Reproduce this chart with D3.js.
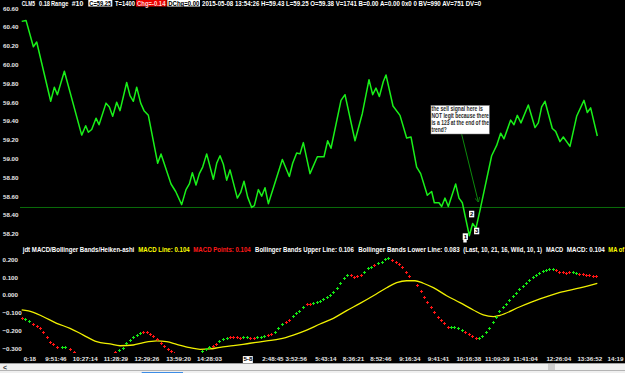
<!DOCTYPE html>
<html><head><meta charset="utf-8">
<script src="https://cdn.jsdelivr.net/npm/d3@7"></script>
<style>
html,body{margin:0;padding:0;background:#000;overflow:hidden}
svg{display:block}
text{font-family:"Liberation Sans",Arial,sans-serif;font-weight:bold}
</style>
</head><body>
<svg id="c" width="625" height="373"></svg>
<script>
// ---------- DATA ----------
// price line vertices: bar position and close price
const priceBar=[0,1.3,3.5,4.5,8.7,9.8,10.7,12.8,18,19.2,20,21,22.3,23.2,25.3,26.3,27.3,28.5,29.5,31.5,32.5,33.5,34.5,35.7,36.7,38,40.8,41.8,44.8,46.2,48,49.3,50.3,51.2,52.3,53.3,54.3,55.5,57.5,58.5,59.5,60.5,61.5,62.5,64.7,65.7,66.7,67.8,69,69.8,71,72,73,74,78.2,80.3,81.3,82.5,83.5,84.5,86.5,88.7,90.7,91.8,92.8,95.8,97,100,102.2,104.2,105.3,106.3,107.3,108.5,109.3,111.4,113.5,115.5,116.8,118.5,119.7,121.7,123,123.8,125.2,126,127,128,130.2,131.2,132.2,134.3,135.3,136.3,137.5,141,142.5,143.7,144.7,146.7,147.7,148.7,149.8,152,154,155,156,157,159.2,160.2,161.5,162.5,164.5,166.5,168.7,169.7,170.7,172.7];
const priceVal=[60.46,60.47,60.19,60.24,59.61,59.76,59.68,59.93,59.25,59.35,59.28,59.31,59.43,59.36,59.59,59.55,59.45,59.60,59.51,59.81,59.67,59.61,59.76,59.59,59.51,59.46,58.95,59.05,58.73,58.65,58.51,58.67,58.73,58.85,58.72,58.84,58.91,59.05,58.78,58.95,59.03,58.94,58.77,58.88,58.58,58.64,58.76,58.59,58.48,58.50,58.67,58.60,58.69,58.52,58.99,58.81,58.95,59.06,59.05,59.17,58.84,59.02,59.02,59.19,59.11,59.62,59.68,59.19,59.48,59.84,59.68,59.75,59.66,59.82,59.89,59.56,59.46,59.22,59.23,58.91,58.84,58.61,58.65,58.53,58.53,58.49,58.58,58.49,58.73,58.58,58.53,58.18,58.31,58.26,58.45,59.03,59.14,59.27,59.21,59.41,59.36,59.46,59.38,59.57,59.33,59.38,59.55,59.61,59.32,59.29,59.18,59.23,59.13,59.45,59.62,59.49,59.54,59.24];
const baseLevel=58.48;
const priceTicks=[60.60,60.40,60.20,60.00,59.80,59.60,59.40,59.20,59.00,58.80,58.60,58.40,58.20];

// MACD points (bar, value, 1 = green / 0 = red)
const macdBar=[0,1,2.3,3.3,4.5,5.5,6.5,7.5,8.5,9.5,10.7,12,13,14.5,15.7,
28,29.2,30.3,31.3,32.5,33.5,34.5,35.5,36.5,37.5,38.5,39.5,40.7,41.7,42.7,43.8,44.8,45.7,
54.2,55.3,56.2,57.3,58.3,59.3,60.5,61.5,62.5,63.5,64.5,65.5,66.5,67.5,68.5,69.7,70.7,71.7,72.8,73.8,74.8,76,77,78.2,79.2,80.2,81.3,82.3,83.3,84.3,85.5,86.5,87.5,88.5,89.5,90.5,91.5,92.5,93.5,94.5,95.5,96.7,97.7,98.7,99.7,100.7,101.7,102.8,103.8,104.8,105.8,106.8,108,109,110,111.2,112.2,113.2,114.2,115.3,116.3,118.5,119.7,120.7,121.7,122.8,123.8,124.8,125.8,126.8,127.8,128.8,129.8,131,132,133,134.2,135.2,136.2,137.2,138.2,139.2,140.2,141.3,142.3,143.3,
144.3,145.3,146.3,147.3,148.3,149.3,150.3,151.3,152.3,153.3,154.3,155.3,156.3,157.3,158.3,159.3,160.3,161.3,162.3,163.3,164.3,165.3,166.3,167.3,168.3,169.3,170.3,171.3,172.3];
const macdVal=[-0.131,-0.137,-0.144,-0.163,-0.174,-0.184,-0.206,-0.234,-0.262,-0.275,-0.290,-0.294,-0.294,-0.303,-0.322,
-0.322,-0.309,-0.296,-0.271,-0.253,-0.238,-0.225,-0.212,-0.210,-0.210,-0.219,-0.230,-0.249,-0.271,-0.285,-0.303,-0.313,-0.324,
-0.315,-0.303,-0.290,-0.285,-0.275,-0.257,-0.249,-0.243,-0.238,-0.234,-0.238,-0.243,-0.238,-0.238,-0.243,-0.243,-0.238,-0.234,-0.229,-0.225,-0.219,-0.206,-0.187,-0.163,-0.153,-0.140,-0.118,-0.103,-0.088,-0.069,-0.051,-0.051,-0.043,-0.038,-0.032,-0.022,-0.010,0.000,0.019,0.038,0.066,0.094,0.112,0.112,0.103,0.107,0.112,0.131,0.150,0.159,0.169,0.178,0.187,0.201,0.206,0.197,0.184,0.174,0.159,0.131,0.108,0.056,0.022,-0.010,-0.041,-0.069,-0.097,-0.122,-0.140,-0.156,-0.178,-0.181,-0.181,-0.187,-0.197,-0.206,-0.219,-0.229,-0.243,-0.243,-0.230,-0.206,-0.184,-0.150,-0.122,-0.090,
-0.068,-0.048,-0.028,-0.008,0.012,0.032,0.050,0.068,0.085,0.100,0.112,0.124,0.134,0.142,0.146,0.144,0.138,0.132,0.128,0.126,0.128,0.130,0.126,0.120,0.116,0.112,0.110,0.107,0.104];
const macdUp=[0,1,1,0,0,0,0,0,0,0,0,1,1,0,0,
0,1,1,1,1,1,1,1,0,0,0,0,0,0,0,0,0,0,
1,1,1,0,0,1,1,1,0,0,0,0,1,1,0,0,1,1,1,0,0,1,1,1,0,0,1,1,1,1,0,0,1,1,1,1,1,1,1,1,1,1,1,0,0,0,0,1,1,1,0,1,1,1,1,0,0,0,0,0,0,0,0,0,0,0,0,0,0,0,0,1,1,1,1,0,0,0,0,1,1,1,1,1,1,1,1,
1,1,1,1,1,1,1,1,1,1,1,1,1,1,1,0,0,0,0,0,1,1,0,0,0,0,0,0,0];

// MA of MACD (yellow)
const maBar=[0,3.5,6.5,10.5,14.5,18.5,22.5,26.5,29.5,33.5,36.5,40.5,43.5,46.5,50.5,53.5,56.5,59.5,63.5,68.5,73.5,77.5,81.5,85.5,89.5,93.5,97.5,101.5,105.5,109.5,112.5,115.5,118,120.5,123.5,127.5,131.5,135.5,138.5,141.5,143.5,149.5,155.5,161.5,167.5,172.7];
const maVal=[-0.084,-0.097,-0.122,-0.159,-0.187,-0.225,-0.262,-0.275,-0.285,-0.281,-0.268,-0.258,-0.262,-0.277,-0.296,-0.305,-0.303,-0.294,-0.285,-0.271,-0.258,-0.247,-0.225,-0.197,-0.163,-0.131,-0.088,-0.047,-0.004,0.041,0.069,0.080,0.080,0.066,0.041,-0.004,-0.043,-0.084,-0.112,-0.122,-0.114,-0.066,-0.022,0.015,0.040,0.066];
const macdTicks=[0.2,0.1,0,-0.1,-0.2,-0.3];

// time axis
const timeBar=[2.3,10.1,18.9,28.1,37.4,46.9,56.2,67.7,75.2,82.2,91.1,99.4,107.6,116.3,124.9,134,142.5,151,161,170.3,178];
const timeLabels=["0:18","9:51:46","10:27:14","11:28:29","12:29:26","13:59:20","14:28:03","5-8","2:48:45","3:52:56","5:43:14","8:36:21","8:52:46","9:16:34","9:41:41","10:16:38","11:09:39","11:41:04","12:26:04","13:36:52","14:19"];

// 1-2-3 markers
const markLabels=["1","2","3"];
const markBar=[133.1,135,136.5];
const markPrice=[58.17,58.41,58.23];

// annotation
const noteLines=["the sell signal here is","NOT legit because there","is a 123 at the end of the","trend?"];
const noteBar=122.8, notePrice=59.565;
const arrowBar=[132,137], arrowPrice=[59.26,58.54];

// ---------- CHART ----------
const svg=d3.select("#c");
svg.append("rect").attr("width",625).attr("height",373).attr("fill","#000");
const x=d3.scaleLinear().domain([0,180]).range([21.7,21.7+180*3.333]);
const yP=d3.scaleLinear().domain([58.20,60.40]).range([233.8,27]);
const yM=d3.scaleLinear().domain([-0.3,0.2]).range([348.4,259.4]);

const defs=svg.append("defs");
defs.append("clipPath").attr("id","cpTop").append("rect").attr("x",20).attr("y",0).attr("width",605).attr("height",240);
defs.append("clipPath").attr("id","cpBot").append("rect").attr("x",20).attr("y",255).attr("width",605).attr("height",98);
defs.append("clipPath").attr("id","cpTime").append("rect").attr("x",21).attr("y",350).attr("width",604).attr("height",14);

// text squeezed horizontally to a target width (the source uses a narrow bitmap font)
function fitText(parent,t,x0,y0,w,size,fill,weight){
  const el=parent.append("text").attr("x",0).attr("y",0).attr("font-size",size).attr("fill",fill)
    .attr("font-weight",weight||"bold").text(t);
  const nat=el.node().getComputedTextLength();
  el.attr("transform",`translate(${x0},${y0}) scale(${w/nat},1)`);
  return el;
}

// header
const hdr=svg.append("g");
const HY=5.6;
fitText(hdr,"CLM5",21.7,HY,13.3,7,"#fff");
fitText(hdr,"0.18",39,HY,11,7,"#fff");
fitText(hdr,"Range",51,HY,17.3,7,"#fff");
fitText(hdr,"#10",71.7,HY,11.6,7,"#fff");
hdr.append("rect").attr("x",88.3).attr("y",-1).attr("width",24).attr("height",7.5).attr("fill","#fff");
fitText(hdr,"C=59.25",89.3,HY,22,7,"#000");
fitText(hdr,"T=1400",115,HY,20,7,"#fff");
hdr.append("rect").attr("x",136).attr("y",-1).attr("width",30.7).attr("height",7.5).attr("fill","#e80000");
fitText(hdr,"Chg=-0.14",137,HY,28.5,7,"#ffd6d6");
hdr.append("rect").attr("x",167.3).attr("y",-1).attr("width",32.7).attr("height",7.5).attr("fill","#fff");
fitText(hdr,"DChg=0.00",168.3,HY,31,7,"#000");
fitText(hdr,"2015-05-08 13:54:26 H=59.43 L=59.25 O=59.38 V=1741 B=0.00 A=0.00 0x0 0 BV=990 AV=751 DV=0",202,HY,279.7,7,"#fff");

// price y axis
const ay=svg.append("g").call(d3.axisRight(yP).tickValues(priceTicks).tickSize(0).tickPadding(3).tickFormat(d3.format(".2f")));
ay.select(".domain").remove();
ay.selectAll("text").attr("fill","#e8e8e8").attr("font-size",6.2).attr("font-family","Liberation Sans, Arial, sans-serif").attr("font-weight","bold");

// top panel
const topG=svg.append("g").attr("clip-path","url(#cpTop)");
topG.append("line").attr("x1",20).attr("x2",625).attr("y1",yP(baseLevel)).attr("y2",yP(baseLevel)).attr("stroke","#0a6e0a").attr("stroke-width",1);
const pdata=priceBar.map((b,i)=>[b,priceVal[i]]);
topG.append("path").datum(pdata).attr("d",d3.line().x(d=>x(d[0])).y(d=>yP(d[1]))).attr("fill","none").attr("stroke","#19f019").attr("stroke-width",1.5).attr("stroke-linejoin","round");

// annotation arrow
defs.append("marker").attr("id","ah").attr("viewBox","0 0 10 10").attr("refX",9).attr("refY",5).attr("markerWidth",5).attr("markerHeight",5).attr("orient","auto")
  .append("path").attr("d","M0,0L10,5L0,10").attr("fill","none").attr("stroke","#0c8a0c").attr("stroke-width",1.5);
topG.append("line").attr("x1",x(arrowBar[0])).attr("y1",yP(arrowPrice[0])).attr("x2",x(arrowBar[1])).attr("y2",yP(arrowPrice[1])).attr("stroke","#0c8a0c").attr("stroke-width",1).attr("marker-end","url(#ah)");
// annotation box
const nb=topG.append("g").attr("transform",`translate(${x(noteBar)},${yP(notePrice)})`);
nb.append("rect").attr("width",58.3).attr("height",28.5).attr("fill","#fff").attr("stroke","#888").attr("stroke-width",0.5);
const noteW=[51.5,57.5,57.8,15.3];
noteLines.forEach((t,i)=>fitText(nb,t,0.5,5.8+i*6.9,noteW[i],6.3,"#2a2a2a","normal"));

// 1-2-3 markers
markLabels.forEach((t,i)=>{
  const g=topG.append("g").attr("transform",`translate(${x(markBar[i])},${yP(markPrice[i])})`);
  g.append("rect").attr("x",-2.6).attr("y",-3.3).attr("width",5.2).attr("height",6.6).attr("fill","#fff");
  g.append("text").attr("text-anchor","middle").attr("y",2.2).attr("font-size",6).attr("font-weight","normal").attr("fill","#000").text(t);
});

// bottom title
const BY=251.6;
fitText(svg,"jdt MACD/Bollinger Bands/Heiken-ashi",22.7,BY,112,7,"#fff");
fitText(svg,"MACD Line: 0.104",138.3,BY,51.5,7,"#ffff00");
fitText(svg,"MACD Points: 0.104",193.3,BY,57.5,7,"#ff1a1a");
fitText(svg,"Bollinger Bands Upper Line: 0.106",255,BY,99,7,"#fff");
fitText(svg,"Bollinger Bands Lower Line: 0.083",358.3,BY,101.5,7,"#fff");
fitText(svg,"(Last, 10, 21, 16, Wild, 10, 1)",463.3,BY,79,7,"#fff");
fitText(svg,"MACD",546,BY,17.2,7,"#fff");
fitText(svg,"MACD: 0.104",566.7,BY,38.2,7,"#fff");
fitText(svg,"MA of",608.3,BY,16,7,"#ffff00");
svg.append("rect").attr("x",463.3).attr("y",239.5).attr("width",3.4).attr("height",3).attr("fill","#fff");

// macd y axis
const am=svg.append("g").call(d3.axisRight(yM).tickValues(macdTicks).tickSize(0).tickPadding(2.5).tickFormat(d3.format(".3f")));
am.select(".domain").remove();
am.selectAll("text").attr("fill","#e8e8e8").attr("font-size",6.2).attr("font-family","Liberation Sans, Arial, sans-serif").attr("font-weight","bold");

// bottom panel
const bot=svg.append("g").attr("clip-path","url(#cpBot)");
const mdata=maBar.map((b,i)=>[b,maVal[i]]);
bot.append("path").datum(mdata).attr("d",d3.line().curve(d3.curveMonotoneX).x(d=>x(d[0])).y(d=>yM(d[1]))).attr("fill","none").attr("stroke","#f0f000").attr("stroke-width",1.3);
const dots=macdBar.map((b,i)=>({b,v:macdVal[i],up:macdUp[i]}));
bot.selectAll("path.pt").data(dots).join("path").attr("class","pt")
  .attr("d",d=>{const cx=Math.round(x(d.b))+0.5, cy=Math.round(yM(d.v))+0.5;return `M${cx-1.5},${cy}H${cx+1.5}M${cx},${cy-1.5}V${cy+1.5}`;})
  .attr("stroke",d=>d.up?"#14e614":"#ff1414").attr("stroke-width",1).attr("fill","none");

// time axis
const at=svg.append("g").attr("clip-path","url(#cpTime)").append("g").attr("transform","translate(0,356.6)")
  .call(d3.axisBottom(x).tickValues(timeBar).tickSize(0).tickPadding(0).tickFormat((d,i)=>timeLabels[i]));
at.select(".domain").remove();
at.selectAll("text").attr("fill","#e8e8e8").attr("font-size",6.2).attr("font-family","Liberation Sans, Arial, sans-serif").attr("font-weight","bold");
at.selectAll(".tick").filter((d,i)=>timeLabels[i]==="5-8").each(function(){
  const g=d3.select(this);
  g.insert("rect","text").attr("x",-5).attr("y",-0.5).attr("width",10).attr("height",7.5).attr("fill","#fff");
  g.select("text").attr("fill","#000");
});

// scrollbar strip
svg.append("rect").attr("x",0).attr("y",363.5).attr("width",625).attr("height",9.5).attr("fill","#f0f0f0");
svg.append("line").attr("x1",0).attr("x2",625).attr("y1",363.5).attr("y2",363.5).attr("stroke","#a0a0a0");
svg.append("line").attr("x1",0).attr("x2",625).attr("y1",370.5).attr("y2",370.5).attr("stroke","#b4b4b4");
svg.append("rect").attr("x",548).attr("y",364).attr("width",7).attr("height",6).attr("fill","#cdcdcd");
svg.append("line").attr("x1",141.7).attr("x2",183).attr("y1",372.5).attr("y2",372.5).attr("stroke","#3c8ce6");
svg.append("text").attr("x",3).attr("y",369.5).attr("font-size",7).attr("font-weight","normal").attr("fill","#333").text("<");
</script>
</body></html>
